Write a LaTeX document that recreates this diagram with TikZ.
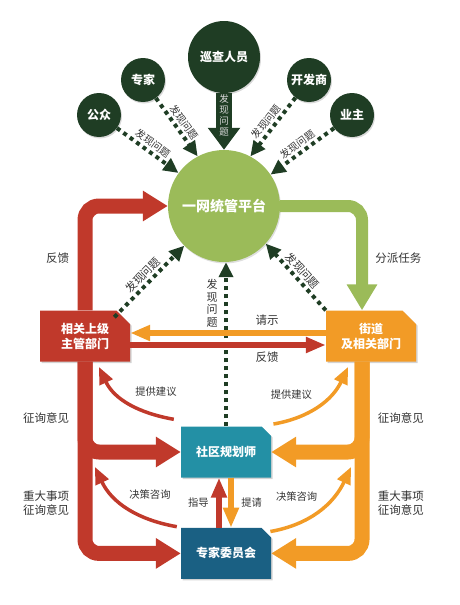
\documentclass[tikz,border=0pt]{standalone}
\usepackage{fontspec}
\setmainfont{Noto Sans CJK SC}
\usetikzlibrary{arrows.meta,positioning,shapes.misc,shadows}

\definecolor{darkgreen}{HTML}{1F3D24}
\definecolor{leafgreen}{HTML}{9BBB59}
\definecolor{brick}{HTML}{C0392B}
\definecolor{amber}{HTML}{F29B26}
\definecolor{sea}{HTML}{2390A5}
\definecolor{deepblue}{HTML}{1A6083}
\definecolor{textgray}{HTML}{333333}

\begin{document}
\begin{tikzpicture}[x=1pt,y=-1pt,
    role/.style={circle,fill=darkgreen,text=white,inner sep=0pt,minimum size=44pt,
      font=\bfseries\fontsize{12}{14}\selectfont,
      drop shadow={shadow xshift=1pt,shadow yshift=-1.5pt,opacity=.3}},
    hub/.style={circle,fill=leafgreen,text=white,inner sep=0pt,minimum size=112pt,
      font=\bfseries\fontsize{14}{16}\selectfont,
      drop shadow={shadow xshift=1pt,shadow yshift=-1.5pt,opacity=.25}},
    dept/.style={chamfered rectangle,chamfered rectangle corners=north east,
      chamfered rectangle xsep=10pt,inner sep=0pt,minimum width=90pt,minimum height=51pt,
      text=white,align=center,font=\bfseries\fontsize{12}{15}\selectfont,
      drop shadow={shadow xshift=1.5pt,shadow yshift=-1.5pt,opacity=.35}},
    note/.style={text=textgray,align=center,font=\fontsize{11.5}{14}\selectfont},
    smallnote/.style={text=textgray,align=center,font=\fontsize{10.3}{12.5}\selectfont},
    slopenote/.style={text=textgray,font=\fontsize{10}{12}\selectfont,inner sep=1pt},
    bigred/.style={draw=brick,line width=15pt,rounded corners=14pt,
      -{Triangle[length=25pt,width=29pt]}},
    bigorange/.style={draw=amber,line width=15pt,rounded corners=14pt,
      -{Triangle[length=25pt,width=29pt]}},
    biggreen/.style={draw=leafgreen,line width=12pt,rounded corners=14pt,
      -{Triangle[length=26pt,width=29pt]}},
    bigdark/.style={draw=darkgreen,line width=16pt,-{Triangle[length=22pt,width=31pt]}},
    finding/.style={draw=darkgreen,line width=4pt,dash pattern=on 4pt off 4pt,
      -{Triangle[length=15pt,width=14pt]}},
    flowred/.style={draw=brick,line width=6pt,-{Triangle[length=20pt,width=15pt]}},
    floworange/.style={draw=amber,line width=6pt,-{Triangle[length=20pt,width=15pt]}},
    curvered/.style={draw=brick,line width=3.5pt,-{Triangle[length=17pt,width=14pt]}},
    curveorange/.style={draw=amber,line width=3.5pt,-{Triangle[length=17pt,width=14pt]}}]
  \useasboundingbox (0,0) rectangle (459,605);

  % roles that report problems
  \node[role,minimum size=72pt] (patrol) at (224,57) {巡查人员};
  \node[role] (expert) at (143,80) {专家};
  \node[role] (public) at (99,115) {公众};
  \node[role] (developer) at (309,80) {开发商};
  \node[role] (owner) at (352,115) {业主};
  \node[hub] (platform) at (224,206) {一网统管平台};

  % departments
  \node[dept,fill=brick] (superior) at (85,336) {相关上级\\主管部门};
  \node[dept,fill=amber] (street) at (371,336) {街道\\及相关部门};
  \node[dept,fill=sea] (planner) at (226,452) {社区规划师};
  \node[dept,fill=deepblue,below=50pt of planner] (committee) {专家委员会};

  \coordinate (adviceL) at (99,367);
  \coordinate (adviceR) at (348,367);
  \coordinate (consultL) at (95,467);
  \coordinate (consultR) at (351,467);

  % main flows
  \draw[bigred] (superior.north) |- node[pos=.25,left=5pt,note] {反馈} (platform.west);
  \draw[bigred] (superior.south) |- node[pos=.31,left=5pt,note] {征询意见} (planner.west);
  \draw[bigred] (superior.south) |- node[pos=.37,left=5pt,note] {重大事项\\征询意见} (committee.west);
  \draw[biggreen] (platform.east) -| node[pos=.75,right=4pt,note] {分派任务} ([xshift=-9pt]street.north);
  \draw[bigorange] ([xshift=-9pt]street.south) |- node[pos=.31,right=5pt,note] {征询意见} (planner.east);
  \draw[bigorange] ([xshift=-9pt]street.south) |- node[pos=.37,right=5pt,note] {重大事项\\征询意见} (committee.east);

  % reporting problems
  \draw[bigdark] (patrol) -- node[pos=.4,text=white!85!black,align=center,
    font=\fontsize{9.5}{11}\selectfont] {发\\现\\问\\题} (platform);
  \draw[finding] (public) -- node[sloped,above=1pt,slopenote] {发现问题} (platform.144);
  \draw[finding] (expert) -- node[sloped,above=1pt,slopenote] {发现问题} (platform.118);
  \draw[finding] (developer) -- node[sloped,above=1pt,slopenote] {发现问题} (platform.62);
  \draw[finding] (owner) -- node[sloped,above=1pt,slopenote] {发现问题} (platform.34);
  \draw[finding] ([xshift=-9pt]superior.north east) -- node[sloped,above=1pt,slopenote,font=\fontsize{11}{13}\selectfont] {发现问题} (platform.225);
  \draw[finding] (street.north west) -- node[sloped,above=1pt,slopenote,font=\fontsize{11}{13}\selectfont] {发现问题} (platform.318);
  \draw[finding] (planner.north) -- node[pos=.75,left=3pt,note,font=\fontsize{11}{12.5}\selectfont] {发\\现\\问\\题} (planner.north |- platform.south);

  % between departments
  \draw[floworange] ([yshift=3pt]street.west) -- node[pos=.3,above=1pt,note] {请示} ([yshift=3pt]superior.east);
  \draw[flowred] ([yshift=-9pt]superior.east) -- node[pos=.7,below=1pt,note] {反馈} ([yshift=-9pt]street.west);
  \draw[flowred] ([xshift=-7pt]committee.north) -- node[left=4pt,smallnote] {指导} ([xshift=-7pt]planner.south);
  \draw[floworange] ([xshift=5pt]planner.south) -- node[right=4pt,smallnote] {提请} ([xshift=5pt]committee.north);

  % advice and consulting
  \draw[curvered] ([shift={(-7pt,7pt)}]planner.north west) to[out=170,in=-65]
    node[pos=.5,above right=2pt,smallnote] {提供建议} (adviceL);
  \draw[curveorange] ([shift={(7pt,7pt)}]planner.north east) to[out=10,in=-115]
    node[pos=.5,above left=2pt,smallnote] {提供建议} (adviceR);
  \draw[curvered] ([shift={(-4pt,1pt)}]committee.north west) to[out=170,in=-65]
    node[pos=.55,above right=1pt,smallnote] {决策咨询} (consultL);
  \draw[curveorange] ([shift={(4pt,1pt)}]committee.north east) to[out=10,in=-115]
    node[pos=.55,above left=1pt,smallnote] {决策咨询} (consultR);
\end{tikzpicture}
\end{document}
